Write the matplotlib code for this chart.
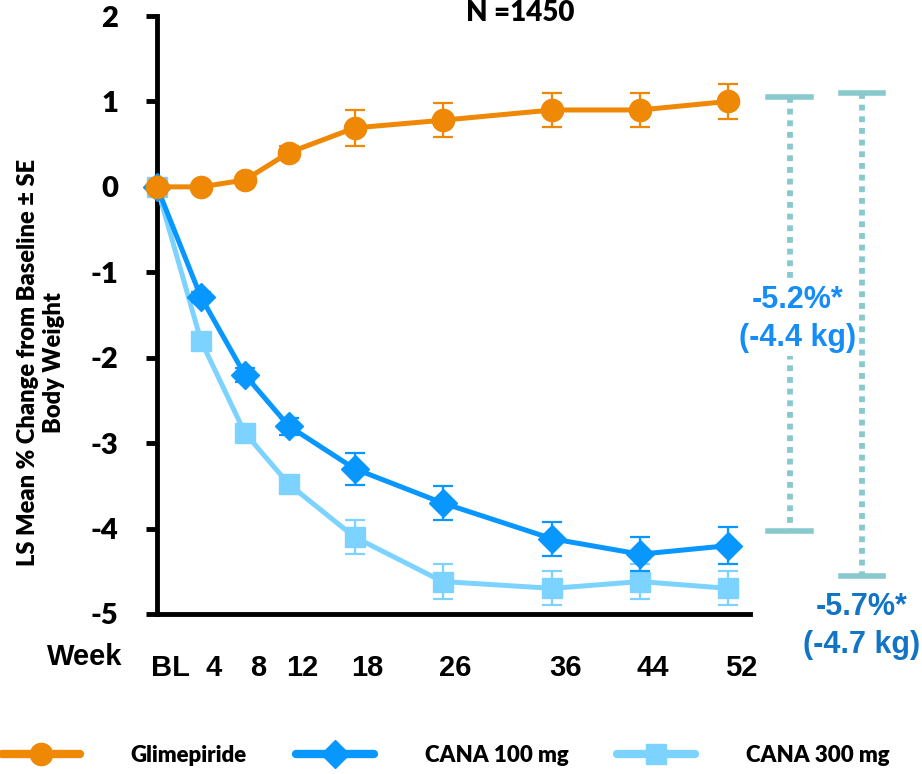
import matplotlib
matplotlib.use('Agg')
from matplotlib import pyplot as plt
from matplotlib import transforms
from matplotlib.lines import Line2D

# weeks and LS mean % change (+/- SE)
weeks = [0, 4, 8, 12, 18, 26, 36, 44, 52]
week_labels = ['BL', '4', '8', '12', '18', '26', '36', '44', '52']

glim = [0, 0, 0.08, 0.4, 0.69, 0.78, 0.9, 0.9, 1.0]
glim_se = [0.0, 0.05, 0.05, 0.08, 0.21, 0.2, 0.2, 0.2, 0.2]
cana100 = [0, -1.29, -2.2, -2.8, -3.3, -3.7, -4.12, -4.3, -4.2]
cana100_se = [0, 0.06, 0.08, 0.1, 0.19, 0.2, 0.2, 0.2, 0.22]
cana300 = [0, -1.8, -2.88, -3.48, -4.1, -4.62, -4.7, -4.62, -4.7]
cana300_se = [0, 0.06, 0.08, 0.1, 0.2, 0.2, 0.2, 0.2, 0.2]

# difference brackets vs glimepiride
bracket_x = [57.6, 64.2]
bracket_top = [1.05, 1.1]
bracket_bottom = [-4.03, -4.55]
bracket_text = ['-5.2%*\n(-4.4 kg)', '-5.7%*\n(-4.7 kg)']

ORANGE = '#EE8805'
BLUE = '#0896FF'
LIGHT = '#7DD3FF'
TEAL = '#88C9CE'
CAL = 'Lato'      # stand-in for Calibri
CAL_W = 'heavy'

fig = plt.figure(figsize=(9.22, 7.74), dpi=100)
ax = fig.add_axes([157 / 922, 1 - 614 / 774, 593 / 922, 598 / 774])

err_kw = dict(elinewidth=1.6, capsize=7, capthick=1.6, linewidth=3.6, clip_on=False)
ax.errorbar(weeks, cana300, yerr=cana300_se, color=LIGHT, marker='s', ms=15,
            zorder=3, **err_kw)
ax.errorbar(weeks, cana100, yerr=cana100_se, color=BLUE, marker='D', ms=14,
            zorder=4, **err_kw)
ax.errorbar(weeks, glim, yerr=glim_se, color=ORANGE, marker='o', ms=16,
            zorder=5, **err_kw)

ax.set_xlim(0, 54)
ax.set_ylim(-5, 2)
ax.set_yticks(range(-5, 3))
ax.set_yticklabels([str(v) for v in range(-5, 3)], fontsize=21,
                   fontweight=CAL_W, family=CAL)
ax.tick_params(axis='y', length=8, width=3.5, pad=20, direction='out')

ax.set_xticks(weeks)
ax.set_xticklabels(week_labels, fontsize=21, fontweight='bold',
                   family='Liberation Sans')
ax.tick_params(axis='x', length=0, pad=29)
offset = transforms.ScaledTranslation(13 / 100, 0, fig.dpi_scale_trans)
for lbl in ax.get_xticklabels():
    lbl.set_transform(lbl.get_transform() + offset)
ax.text(-6.6, -5.5, 'Week', fontsize=21, fontweight='bold', family='Liberation Sans',
        ha='center', va='center', clip_on=False)

for side in ['top', 'right']:
    ax.spines[side].set_visible(False)
ax.spines['left'].set_linewidth(3.5)
ax.spines['bottom'].set_linewidth(3.5)

ax.set_ylabel('LS Mean % Change from Baseline ± SE\nBody Weight', fontsize=17,
              fontweight=CAL_W, family=CAL, linespacing=1.2)
ax.yaxis.set_label_coords(-0.155, 0.42)

# brackets
for bx, top, bot in zip(bracket_x, bracket_top, bracket_bottom):
    ax.plot([bx, bx], [top, bot], color=TEAL, lw=4.2, ls=(0, (1, 1)),
            solid_capstyle='butt', dash_capstyle='butt', clip_on=False, zorder=2)
    ax.plot([bx - 1.95, bx + 1.95], [top, top], color=TEAL, lw=4, clip_on=False)
    ax.plot([bx - 1.95, bx + 1.95], [bot, bot], color=TEAL, lw=4, clip_on=False)

ax.text(bracket_x[0] + 0.7, -1.55, bracket_text[0], color='#168CF7', fontsize=22,
        fontweight='bold', family='Liberation Sans', ha='center', va='center',
        linespacing=1.35, clip_on=False, zorder=6,
        bbox=dict(facecolor='white', edgecolor='none', pad=2))
ax.text(bracket_x[1], -5.14, bracket_text[1], color='#1274C4', fontsize=22,
        fontweight='bold', family='Liberation Sans', ha='center', va='center',
        linespacing=1.35, clip_on=False, zorder=6)

fig.text(520 / 922, 1 - 21 / 774, 'N =1450', fontsize=20, fontweight=CAL_W,
         family=CAL, ha='center', va='baseline')

handles = [
    Line2D([], [], color=ORANGE, lw=6, marker='o', ms=16, solid_capstyle='round'),
    Line2D([], [], color=BLUE, lw=6, marker='D', ms=14, solid_capstyle='round'),
    Line2D([], [], color=LIGHT, lw=6, marker='s', ms=14, solid_capstyle='round'),
]
fig.legend(handles, ['Glimepiride', 'CANA 100 mg', 'CANA 300 mg'], ncol=3,
           loc='center left', bbox_to_anchor=(0.002, 1 - 755 / 774), frameon=False,
           prop=dict(family=CAL, weight=CAL_W, size=16), handlelength=3.5,
           handletextpad=2.3, columnspacing=2.2, borderpad=0, borderaxespad=0)

plt.savefig('out.png', dpi=100)
